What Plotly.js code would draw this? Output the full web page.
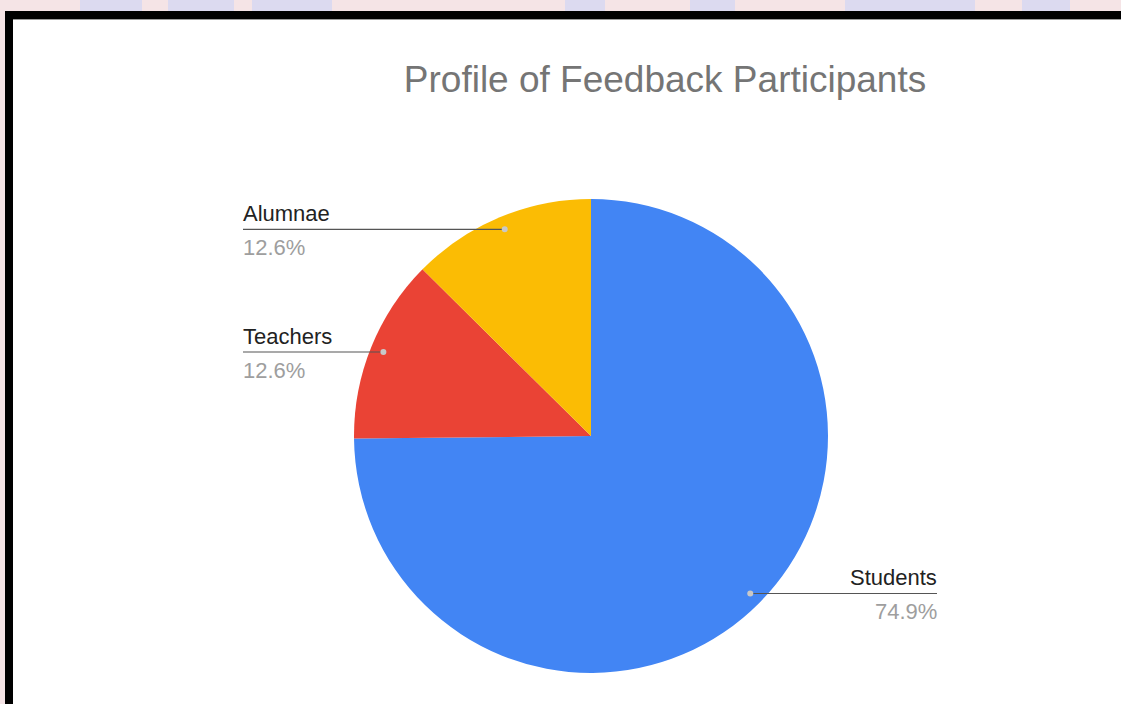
<!DOCTYPE html>
<html>
<head>
<meta charset="utf-8">
<script src="https://cdn.plot.ly/plotly-3.0.1.min.js"></script>
<style>
  html, body { margin: 0; padding: 0; width: 1121px; height: 704px; overflow: hidden; background: #f5e4e6; }
  .blob { position: absolute; top: 0; height: 11px; background: #dcdaf0; }
  #frame { position: absolute; left: 5px; top: 11px; width: 1116px; height: 693px; box-sizing: border-box;
           background: #ffffff; border-left: 8px solid #000; border-top: 8px solid #000; }
  #frame:after { content: ""; position: absolute; left: 0; right: 0; top: 0; height: 1px; background: #9a9a9a; }
  #chart { position: absolute; left: 0; top: 0; width: 1121px; height: 704px; }
</style>
</head>
<body>
<div class="blob" style="left:80px;width:62px"></div>
<div class="blob" style="left:168px;width:66px"></div>
<div class="blob" style="left:252px;width:80px"></div>
<div class="blob" style="left:565px;width:40px"></div>
<div class="blob" style="left:690px;width:45px"></div>
<div class="blob" style="left:845px;width:130px"></div>
<div class="blob" style="left:1022px;width:48px"></div>
<div id="frame"></div>
<div id="chart"></div>
<script>
// ---- data ----
const labels = ['Students', 'Teachers', 'Alumnae'];
const values = [74.9, 12.6, 12.6];
const colors = ['#4285f4', '#ea4335', '#fbbc04'];
const chartTitle = 'Profile of Feedback Participants';

// ---- layout geometry ----
const W = 1121, H = 704;
const cx = 591, cy = 436, R = 237;
const leftX = 243, rightX = 937;
const total = values.reduce((a, b) => a + b, 0);

const shapes = [];
const annotations = [];
let cum = 0;
values.forEach((v, i) => {
  const mid = (cum + v / 2) / total;
  cum += v;
  const ang = mid * 2 * Math.PI;
  const dx = cx + 0.945 * R * Math.sin(ang);
  const dy = cy - 0.945 * R * Math.cos(ang);
  const left = Math.sin(ang) < 0;
  const endX = left ? leftX : rightX;
  const px = x => x / W, py = y => 1 - y / H;
  shapes.push({ type: 'line', xref: 'paper', yref: 'paper', x0: px(dx), x1: px(endX), y0: py(dy), y1: py(dy),
                line: { color: '#555555', width: 1.2 } });
  shapes.push({ type: 'circle', xref: 'paper', yref: 'paper', x0: px(dx - 3), x1: px(dx + 3), y0: py(dy - 3), y1: py(dy + 3),
                fillcolor: '#c8c8c8', line: { width: 0 } });
  annotations.push({ xref: 'paper', yref: 'paper', x: px(endX), y: py(dy - 2), xanchor: left ? 'left' : 'right', yanchor: 'bottom',
                     borderpad: 0, xshift: left ? -1 : 1,
                     text: labels[i], showarrow: false, font: { family: 'Liberation Sans, Arial, sans-serif', size: 22, color: '#222222' } });
  annotations.push({ xref: 'paper', yref: 'paper', x: px(endX), y: py(dy + 5), xanchor: left ? 'left' : 'right', yanchor: 'top',
                     borderpad: 0, xshift: left ? -1 : 1,
                     text: v.toFixed(1) + '%', showarrow: false, font: { family: 'Liberation Sans, Arial, sans-serif', size: 22, color: '#9e9e9e' } });
});

const trace = {
  type: 'pie',
  labels: labels,
  values: values,
  sort: false,
  direction: 'clockwise',
  rotation: 0,
  textinfo: 'none',
  hoverinfo: 'none',
  marker: { colors: colors, line: { width: 0 } },
  domain: { x: [(cx - R) / W, (cx + R) / W], y: [1 - (cy + R) / H, 1 - (cy - R) / H] },
  automargin: false,
  showlegend: false
};

const layout = {
  width: W, height: H,
  margin: { l: 0, r: 0, t: 0, b: 0 },
  paper_bgcolor: 'rgba(0,0,0,0)',
  plot_bgcolor: 'rgba(0,0,0,0)',
  showlegend: false,
  title: { text: chartTitle, x: 665 / W, xanchor: 'center', y: 1 - 79 / H, yanchor: 'middle', yref: 'container',
           font: { family: 'Liberation Sans, Arial, sans-serif', size: 37, color: '#757575' } },
  shapes: shapes,
  annotations: annotations
};

Plotly.newPlot('chart', [trace], layout, { displayModeBar: false, staticPlot: true });
</script>
</body>
</html>
